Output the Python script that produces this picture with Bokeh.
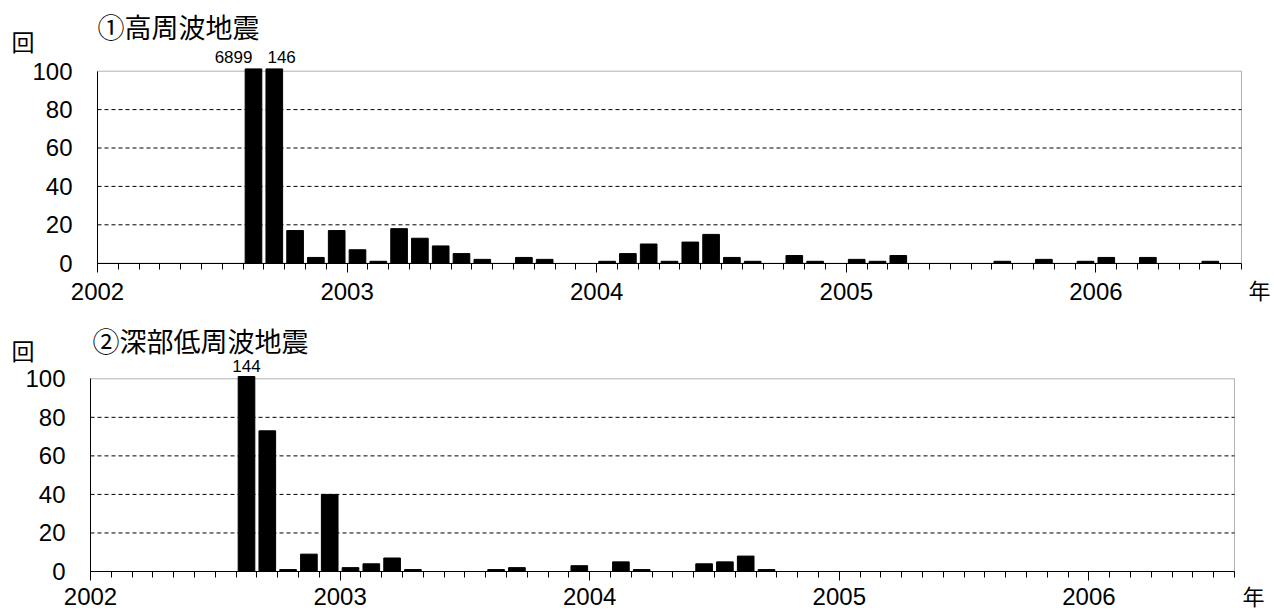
from bokeh.plotting import figure
from bokeh.models import Range1d, FixedTicker, Label, BoxAnnotation
from bokeh.layouts import column
from bokeh.embed import file_html
from bokeh.resources import INLINE

# ---------------- data ----------------
n_months = 55  # Jan 2002 .. Jul 2006
year_ticks = [0, 12, 24, 36, 48]
year_labels = ["2002", "2003", "2004", "2005", "2006"]
y_ticks = [0, 20, 40, 60, 80, 100]
grid_ticks = [20, 40, 60, 80]

title_high = "①高周波地震"
title_deep = "②深部低周波地震"
unit_y = "回"
unit_x = "年"

high_freq = [0, 0, 0, 0, 0, 0, 0,
             6899, 146, 17, 3, 17, 7, 1, 18, 13, 9, 5, 2, 0, 3, 2, 0, 0,
             1, 5, 10, 1, 11, 15, 3, 1, 0, 4, 1, 0,
             2, 1, 4, 0, 0, 0, 0, 1, 0, 2, 0, 1,
             3, 0, 3, 0, 0, 1, 0]

deep_low = [0, 0, 0, 0, 0, 0, 0,
            144, 73, 1, 9, 40, 2, 4, 7, 1, 0, 0, 0, 1, 2, 0, 0, 3,
            0, 5, 1, 0, 0, 4, 5, 8, 1, 0, 0, 0,
            0, 0, 0, 0, 0, 0, 0, 0, 0, 0, 0, 0,
            0, 0, 0, 0, 0, 0, 0]

YMAX = 100
CLIP_TOP = 101.2
NUM_FONT = "Liberation Sans"
JP_FONT = "Noto Sans CJK JP"
W = 1274
H = 306


def make_chart(values, title, x_view, y_view, standoff,
               title_xy, unit_xy, year_xy, over_labels):
    p = figure(width=W, height=H, output_backend="svg",
               toolbar_location=None,
               x_range=Range1d(*x_view), y_range=Range1d(*y_view),
               min_border_left=0, min_border_right=0,
               min_border_top=0, min_border_bottom=0)
    p.title.visible = False
    p.background_fill_color = "white"
    p.border_fill_color = "white"
    p.outline_line_color = None
    p.xgrid.visible = False
    p.ygrid.visible = False

    # dashed horizontal grid lines across the plotting box
    p.segment(x0=[0] * len(grid_ticks), x1=[n_months] * len(grid_ticks),
              y0=grid_ticks, y1=grid_ticks,
              line_color="black", line_width=1, line_dash="4 3")

    # bars (months with no events have no bar; values above the axis limit are cut)
    idx = [m for m in range(n_months) if values[m] > 0]
    xs = [m + 0.5 for m in idx]
    tops = [min(values[m], CLIP_TOP) for m in idx]
    p.vbar(x=xs, top=tops, bottom=0, width=0.8,
           fill_color="black", line_color="black", line_width=1)

    # plot box
    p.add_layout(BoxAnnotation(left=0, right=n_months, bottom=0, top=YMAX,
                               fill_alpha=0, line_color="black",
                               line_width=1, level="underlay"))

    # x axis
    xa = p.xaxis[0]
    xa.fixed_location = 0
    xa.bounds = (0, n_months)
    xa.ticker = FixedTicker(ticks=year_ticks, minor_ticks=list(range(n_months + 1)))
    xa.major_label_overrides = {t: l for t, l in zip(year_ticks, year_labels)}
    xa.major_tick_out = 9
    xa.major_tick_in = 0
    xa.minor_tick_out = 6
    xa.minor_tick_in = 0
    xa.axis_line_color = "black"
    xa.major_tick_line_color = "black"
    xa.minor_tick_line_color = "black"
    xa.major_label_text_font = NUM_FONT
    xa.major_label_text_font_size = "24px"
    xa.major_label_text_color = "black"
    xa.major_label_standoff = standoff

    # y axis
    ya = p.yaxis[0]
    ya.fixed_location = 0
    ya.bounds = (0, YMAX)
    ya.ticker = FixedTicker(ticks=y_ticks)
    ya.major_tick_out = 0
    ya.major_tick_in = 0
    ya.minor_tick_line_color = None
    ya.axis_line_color = "black"
    ya.major_label_text_font = NUM_FONT
    ya.major_label_text_font_size = "24px"
    ya.major_label_text_color = "black"
    ya.major_label_standoff = 25

    # texts
    p.add_layout(Label(x=title_xy[0], y=title_xy[1], text=title,
                       text_font=JP_FONT, text_font_size="27px",
                       text_align="left", text_baseline="middle",
                       text_color="black"))
    p.add_layout(Label(x=unit_xy[0], y=unit_xy[1], text=unit_y,
                       text_font=JP_FONT, text_font_size="23px",
                       text_align="center", text_baseline="middle",
                       text_color="black"))
    p.add_layout(Label(x=year_xy[0], y=year_xy[1], text=unit_x,
                       text_font=JP_FONT, text_font_size="22px",
                       text_align="center", text_baseline="middle",
                       text_color="black"))
    for (i, dx, align, ly) in over_labels:
        p.add_layout(Label(x=i + dx, y=ly, text=str(values[i]),
                           text_font=NUM_FONT, text_font_size="17px",
                           text_align=align, text_baseline="middle",
                           text_color="black"))
    return p


over_high = [(i, d, a, 107.4) for i, d, a in
             [(7, 0.45, "right"), (8, 0.17, "left")] if high_freq[i] > YMAX]
over_deep = [(i, 0.5, "center", 106.9) for i in range(n_months) if deep_low[i] > YMAX]

p1 = make_chart(high_freq, title_high, (-4.663, 56.587), (-22.55, 136.82), 11,
                (0.0, 123.3), (-3.58, 115.5), (55.87, -13.44), over_high)
p2 = make_chart(deep_low, title_deep, (-4.327, 56.923), (-21.28, 137.52), 8,
                (0.1, 119.9), (-3.25, 115.2), (55.91, -12.2), over_deep)

layout = column(p1, p2)
open("out.html", "w").write(file_html(layout, INLINE))
